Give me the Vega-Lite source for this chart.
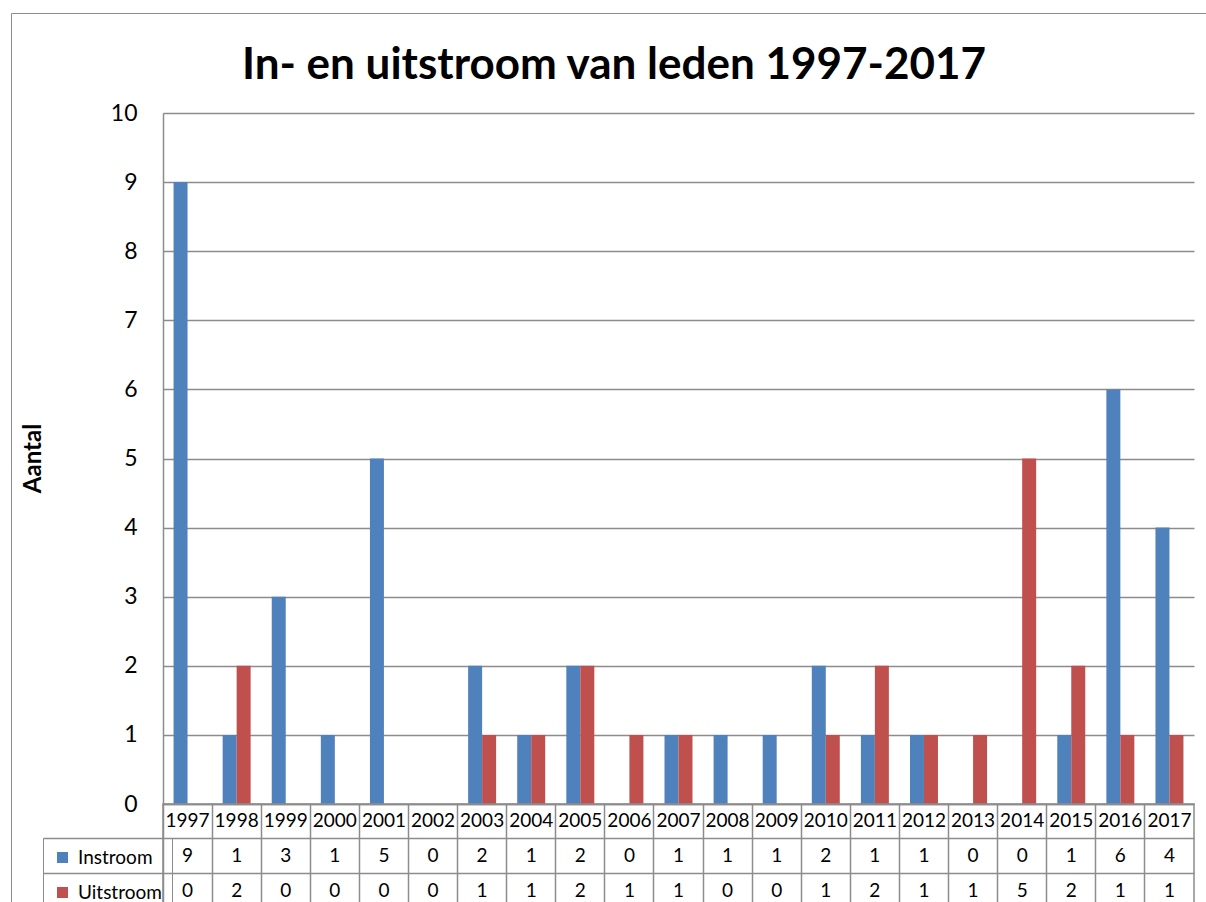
{
  "$schema": "https://vega.github.io/schema/vega-lite/v6.json",
  "padding": {"left": 10, "top": 12, "right": 0, "bottom": 0},
  "background": "white",
  "title": {"text": "In- en uitstroom van leden 1997-2017", "font": "Lato", "fontSize": 44, "fontWeight": "bold", "color": "#000000", "anchor": "middle", "dx": 3, "offset": -75},
  "data": {"values": [
    {"jaar": "1997", "reeks": "Instroom", "aantal": 9}, {"jaar": "1997", "reeks": "Uitstroom", "aantal": 0},
    {"jaar": "1998", "reeks": "Instroom", "aantal": 1}, {"jaar": "1998", "reeks": "Uitstroom", "aantal": 2},
    {"jaar": "1999", "reeks": "Instroom", "aantal": 3}, {"jaar": "1999", "reeks": "Uitstroom", "aantal": 0},
    {"jaar": "2000", "reeks": "Instroom", "aantal": 1}, {"jaar": "2000", "reeks": "Uitstroom", "aantal": 0},
    {"jaar": "2001", "reeks": "Instroom", "aantal": 5}, {"jaar": "2001", "reeks": "Uitstroom", "aantal": 0},
    {"jaar": "2002", "reeks": "Instroom", "aantal": 0}, {"jaar": "2002", "reeks": "Uitstroom", "aantal": 0},
    {"jaar": "2003", "reeks": "Instroom", "aantal": 2}, {"jaar": "2003", "reeks": "Uitstroom", "aantal": 1},
    {"jaar": "2004", "reeks": "Instroom", "aantal": 1}, {"jaar": "2004", "reeks": "Uitstroom", "aantal": 1},
    {"jaar": "2005", "reeks": "Instroom", "aantal": 2}, {"jaar": "2005", "reeks": "Uitstroom", "aantal": 2},
    {"jaar": "2006", "reeks": "Instroom", "aantal": 0}, {"jaar": "2006", "reeks": "Uitstroom", "aantal": 1},
    {"jaar": "2007", "reeks": "Instroom", "aantal": 1}, {"jaar": "2007", "reeks": "Uitstroom", "aantal": 1},
    {"jaar": "2008", "reeks": "Instroom", "aantal": 1}, {"jaar": "2008", "reeks": "Uitstroom", "aantal": 0},
    {"jaar": "2009", "reeks": "Instroom", "aantal": 1}, {"jaar": "2009", "reeks": "Uitstroom", "aantal": 0},
    {"jaar": "2010", "reeks": "Instroom", "aantal": 2}, {"jaar": "2010", "reeks": "Uitstroom", "aantal": 1},
    {"jaar": "2011", "reeks": "Instroom", "aantal": 1}, {"jaar": "2011", "reeks": "Uitstroom", "aantal": 2},
    {"jaar": "2012", "reeks": "Instroom", "aantal": 1}, {"jaar": "2012", "reeks": "Uitstroom", "aantal": 1},
    {"jaar": "2013", "reeks": "Instroom", "aantal": 0}, {"jaar": "2013", "reeks": "Uitstroom", "aantal": 1},
    {"jaar": "2014", "reeks": "Instroom", "aantal": 0}, {"jaar": "2014", "reeks": "Uitstroom", "aantal": 5},
    {"jaar": "2015", "reeks": "Instroom", "aantal": 1}, {"jaar": "2015", "reeks": "Uitstroom", "aantal": 2},
    {"jaar": "2016", "reeks": "Instroom", "aantal": 6}, {"jaar": "2016", "reeks": "Uitstroom", "aantal": 1},
    {"jaar": "2017", "reeks": "Instroom", "aantal": 4}, {"jaar": "2017", "reeks": "Uitstroom", "aantal": 1}
  ]},
  "config": {
    "font": "Lato",
    "view": {"stroke": null},
    "axis": {"labelColor": "#000000", "titleColor": "#000000"}
  },
  "bounds": "flush",
  "spacing": 0,
  "vconcat": [
    {
      "width": 1031,
      "height": 691,
      "mark": {"type": "bar"},
      "encoding": {
        "x": {"field": "jaar", "type": "nominal", "scale": {"paddingInner": 0.43, "paddingOuter": 0.215}, "axis": null},
        "xOffset": {"field": "reeks", "type": "nominal", "sort": ["Instroom", "Uitstroom"]},
        "y": {
          "field": "aantal", "type": "quantitative",
          "scale": {"domain": [0, 10], "nice": false},
          "axis": {
            "title": "Aantal", "values": [0, 1, 2, 3, 4, 5, 6, 7, 8, 9, 10],
            "grid": true, "gridColor": "#8c8c8c", "gridWidth": 1.5, "gridOpacity": 1,
            "domain": true, "domainColor": "#8c8c8c", "domainWidth": 1.5,
            "ticks": false, "labelFontSize": 23, "labelPadding": 26, "labelFont": "Lato",
            "titleFontSize": 24, "titleFontWeight": "bold", "titleFont": "Lato",
            "titleX": -130, "titleY": 345, "titleAngle": -90, "titleBaseline": "middle", "titleAlign": "center"
          }
        },
        "color": {
          "field": "reeks", "type": "nominal",
          "scale": {"domain": ["Instroom", "Uitstroom"], "range": ["#4F81BD", "#C0504D"]},
          "legend": {
            "orient": "none", "legendX": -120, "legendY": 725, "title": null, "direction": "vertical",
            "symbolType": "square", "symbolSize": 121, "symbolStrokeWidth": 0,
            "labelFontSize": 19, "labelFont": "Lato", "labelColor": "#000000",
            "padding": 10, "rowPadding": 15, "labelOffset": 6, "strokeColor": "#8c8c8c"
          }
        }
      }
    },
    {
      "width": 1031,
      "height": 104,
      "view": {"stroke": "#8c8c8c", "strokeWidth": 1.5},
      "layer": [
        {
          "mark": {"type": "text", "fontSize": 19, "font": "Lato", "color": "#000000", "baseline": "middle", "strokeWidth": 0},
          "encoding": {
            "x": {"field": "jaar", "type": "nominal", "scale": {"type": "band", "paddingInner": 0, "paddingOuter": 0},
              "axis": {"title": null, "labels": false, "ticks": false, "domain": false, "grid": true, "bandPosition": 0, "gridColor": "#8c8c8c", "gridWidth": 1.5, "gridOpacity": 1}},
            "y": {"field": "reeks", "type": "nominal", "scale": {"type": "band", "domain": ["Jaar", "Instroom", "Uitstroom"], "paddingInner": 0, "paddingOuter": 0},
              "axis": {"title": null, "labels": false, "domain": false, "grid": true, "bandPosition": 0, "gridColor": "#8c8c8c", "gridWidth": 1.5, "gridOpacity": 1,
                "ticks": true, "tickSize": 120, "tickColor": "#8c8c8c", "tickWidth": 1.5,
                "tickOpacity": {"condition": {"test": "datum.value === 'Jaar'", "value": 0}, "value": 1}}},
            "text": {"field": "aantal", "type": "quantitative"},
            "stroke": {"field": "aantal", "type": "quantitative",
              "legend": {"orient": "none", "legendX": -152, "legendY": -100, "direction": "horizontal", "title": null, "labels": false,
                "gradientLength": 1200, "gradientThickness": 900, "gradientOpacity": 0, "gradientStrokeWidth": 0,
                "padding": 0, "strokeColor": "#8c8c8c"}}
          }
        },
        {
          "transform": [{"filter": "datum.reeks === 'Instroom'"}],
          "mark": {"type": "text", "fontSize": 19, "font": "Lato", "color": "#000000", "baseline": "middle"},
          "encoding": {
            "x": {"field": "jaar", "type": "nominal"},
            "y": {"datum": "Jaar", "type": "nominal"},
            "text": {"field": "jaar", "type": "nominal"}
          }
        }
      ]
    }
  ]
}
